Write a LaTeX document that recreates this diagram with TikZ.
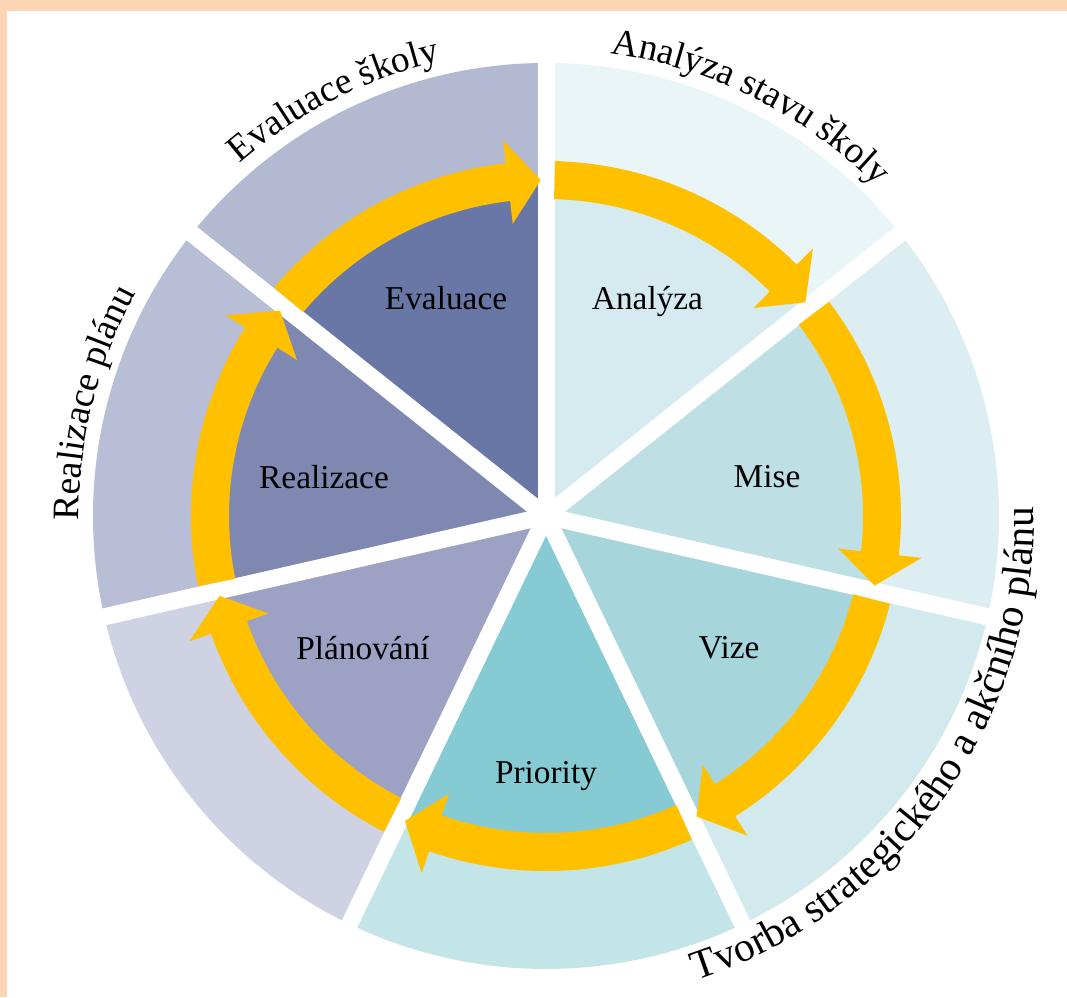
\documentclass[tikz,border=0pt]{standalone}
\usepackage{fontspec}
\setmainfont{Liberation Serif}
\usetikzlibrary{decorations.text}
\definecolor{peach}{HTML}{FCD5B5}
\definecolor{gold}{HTML}{FFC000}
\definecolor{anI}{HTML}{D5EBEF}
\definecolor{anO}{HTML}{EAF5F8}
\definecolor{miI}{HTML}{BEE0E5}
\definecolor{miO}{HTML}{DCEEF1}
\definecolor{viI}{HTML}{A6D6DB}
\definecolor{viO}{HTML}{D2EAED}
\definecolor{prI}{HTML}{86CBD3}
\definecolor{prO}{HTML}{C4E5E8}
\definecolor{plI}{HTML}{9DA1C4}
\definecolor{plO}{HTML}{CFD2E3}
\definecolor{reI}{HTML}{7E88B1}
\definecolor{reO}{HTML}{B8BED5}
\definecolor{evI}{HTML}{6877A5}
\definecolor{evO}{HTML}{B2B9D1}
\newcommand\outerfont{\fontsize{28}{30}\selectfont}
\newcommand\tvorbafont{\fontsize{31}{33}\selectfont}
\tikzset{
  lab/.style={font=\fontsize{25}{29}\selectfont, inner sep=0pt, anchor=base, text=black},
  gapline/.style={white, line width=12.75pt},
  ringtext/.style={decorate, decoration={text along path, text align=center, text color=black}}
}
\begin{document}
\begin{tikzpicture}[x=0.75pt,y=0.75pt]
\useasboundingbox (0,0) rectangle (1067,997);
\fill[peach] (0,0) rectangle (1067,997);
\fill[white] (7,0) rectangle (1067,986);
\begin{scope}[shift={(546,481)}]
  \coordinate (C) at (0,0);
  % sectors
  \foreach \a/\ci/\co in {90/anI/anO, 38.5714/miI/miO, -12.8571/viI/viO, -64.2857/prI/prO, -115.7143/plI/plO, -167.1429/reI/reO, -218.5714/evI/evO}{
    \pgfmathsetmacro{\bb}{\a-51.4286}
    \fill[\ci] (C) -- (\a:336) arc[start angle=\a, end angle=\bb, radius=336] -- cycle;
    \fill[\co] (\a:336) arc[start angle=\a, end angle=\bb, radius=336] -- (\bb:453) arc[start angle=\bb, end angle=\a, radius=453] -- cycle;
  }
  % white gaps
  \foreach \a in {90, 38.5714, -12.8571, -64.2857, -115.7143, -167.1429, -218.5714}{
    \draw[gapline] (C) -- (\a:470);
  }
  % cycle arrows
  \foreach \a in {90, 38.5714, -12.8571, -64.2857, -115.7143, -167.1429, -218.5714}{
    \pgfmathsetmacro{\bb}{\a-51.4286}
    \pgfmathsetmacro{\ta}{\a-1.45}
    \pgfmathsetmacro{\hb}{\bb+6.5}
    \pgfmathsetmacro{\tp}{\bb+0.9}
    \fill[gold] (\ta:355) arc[start angle=\ta, end angle=\hb, radius=355] -- (\hb:378) -- (\tp:336) -- (\hb:294) -- (\hb:317) arc[start angle=\hb, end angle=\ta, radius=317] -- cycle;
  }
  % outer ring labels
  \path[ringtext, decoration={text={|\outerfont|Analýza stavu školy}}] (93.5:467) arc[start angle=93.5, end angle=33.5, radius=467];
  \path[ringtext, decoration={text={|\outerfont|Evaluace školy}}] (147:467) arc[start angle=147, end angle=87, radius=467];
  \path[ringtext, decoration={text={|\outerfont|Realizace plánu}}] (196:467) arc[start angle=196, end angle=136, radius=467];
  \path[ringtext, decoration={text={|\tvorbafont|Tvorba strategického a akčního plánu}}] (-90.5:488) arc[start angle=-90.5, end angle=19.5, radius=488];
\end{scope}
% inner labels
\node[lab] (analyza) at (647.5,687) {Analýza};
\node[lab] (evaluace) at (446,687) {Evaluace};
\node[lab] (mise) at (767,509) {Mise};
\node[lab] (vize) at (729,339) {Vize};
\node[lab] (priority) at (546,214) {Priority};
\node[lab] (planovani) at (363,338) {Plánování};
\node[lab] (realizace) at (324,508) {Realizace};
\end{tikzpicture}
\end{document}
